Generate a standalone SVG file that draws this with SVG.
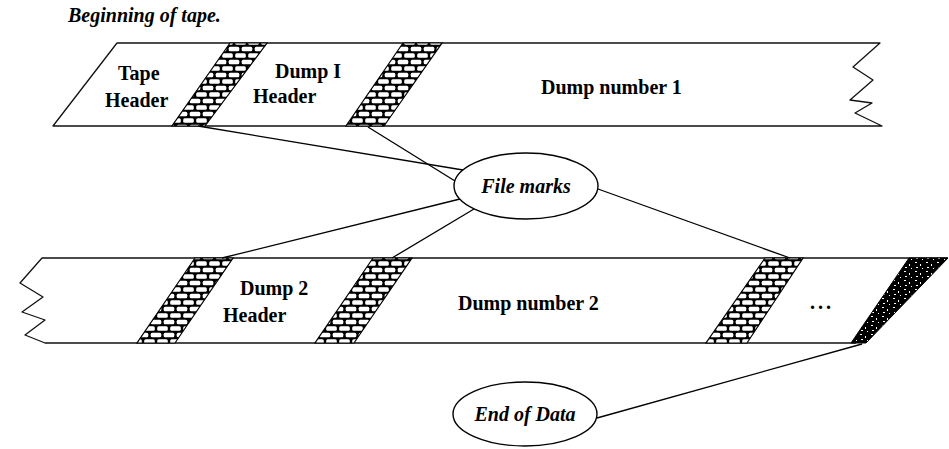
<svg xmlns="http://www.w3.org/2000/svg" width="949" height="449" viewBox="0 0 949 449">
<style>
.edge{fill:none;stroke:#111;stroke-width:1.3;stroke-linejoin:round}
.lbl{font-family:"Liberation Serif",serif;font-weight:bold;font-size:20px;fill:#000}
.it{font-family:"Liberation Serif",serif;font-weight:bold;font-style:italic;font-size:20px;fill:#000}
.mark{fill:url(#brick);stroke:#000;stroke-width:1.2}
.conn{fill:none;stroke:#000;stroke-width:1.3}
.oval{fill:#fff;stroke:#000;stroke-width:1.4}
</style>
<defs>
<pattern id="brick" patternUnits="userSpaceOnUse" width="13" height="13">
<rect width="13" height="13" fill="#000"/>
<rect x="1.2" y="1.2" width="10.6" height="4.6" rx="1.5" fill="#fff"/>
<rect x="-5.3" y="7.7" width="10.6" height="4.6" rx="1.5" fill="#fff"/>
<rect x="7.7" y="7.7" width="10.6" height="4.6" rx="1.5" fill="#fff"/>
</pattern>
<pattern id="speck" patternUnits="userSpaceOnUse" width="11" height="9">
<rect width="11" height="9" fill="#000"/>
<rect x="2" y="1" width="2" height="1" fill="#fff"/>
<rect x="7" y="3" width="1" height="2" fill="#fff"/>
<rect x="3" y="6" width="2" height="1" fill="#fff"/>
<rect x="9" y="7" width="1" height="1" fill="#fff"/>
</pattern>
</defs>
<rect width="949" height="449" fill="#fff"/>

<text id="beginning" class="it" x="68" y="22">Beginning of tape.</text>

<g id="tape1">
<path class="edge" d="M117,43 L880,43 L853,67 L873,80 L850,100 L872,103 L855,113 L882,126 L53,126 Z" fill="#fff"/>
</g>
<g id="tape1-header">
<text class="lbl" x="118" y="80">Tape</text>
<text class="lbl" x="105" y="107">Header</text>
</g>
<g id="filemark1"><polygon class="mark" points="230,43 267,43 205,126 172,126"/></g>
<g id="dump1-header">
<text class="lbl" x="275" y="78">Dump I</text>
<text class="lbl" x="253" y="103">Header</text>
</g>
<g id="filemark2"><polygon class="mark" points="403,43 442,43 384,126 346,126"/></g>
<g id="dump1"><text class="lbl" x="541" y="94">Dump number 1</text></g>

<g id="tape2">
<path class="edge" d="M948,258 L42,258 L20,283 L43,297 L22,312 L45,320 L25,335 L45,343 L856,343"/>
</g>
<g id="filemark3"><polygon class="mark" points="195,258 233,258 175,343 137,343"/></g>
<g id="dump2-header">
<text class="lbl" x="240" y="295">Dump 2</text>
<text class="lbl" x="223" y="322">Header</text>
</g>
<g id="filemark4"><polygon class="mark" points="373,258 412,258 354,343 315,343"/></g>
<g id="dump2"><text class="lbl" x="458" y="310">Dump number 2</text></g>
<g id="filemark5"><polygon class="mark" points="765,258 803,258 747,343 706,343"/></g>
<g id="ellipsis"><text class="lbl" x="810" y="309" letter-spacing="3">...</text></g>
<g id="end-mark"><polygon points="909,258 948,258 866,343 851,343" fill="url(#speck)" stroke="#000" stroke-width="1"/></g>

<g id="connectors">
<line class="conn" x1="198" y1="126" x2="463" y2="170"/>
<line class="conn" x1="368" y1="127" x2="455" y2="181"/>
<line class="conn" x1="222" y1="258" x2="460" y2="199"/>
<line class="conn" x1="392" y1="258" x2="474" y2="209"/>
<line class="conn" x1="598" y1="189" x2="790" y2="258"/>
<line class="conn" x1="597" y1="418" x2="862" y2="344"/>
</g>

<g id="file-marks">
<ellipse class="oval" cx="526" cy="186" rx="72" ry="33"/>
<text class="it" x="526" y="193" text-anchor="middle">File marks</text>
</g>
<g id="end-of-data">
<ellipse class="oval" cx="525" cy="414" rx="72" ry="32"/>
<text class="it" x="525" y="421" text-anchor="middle">End of Data</text>
</g>
</svg>
